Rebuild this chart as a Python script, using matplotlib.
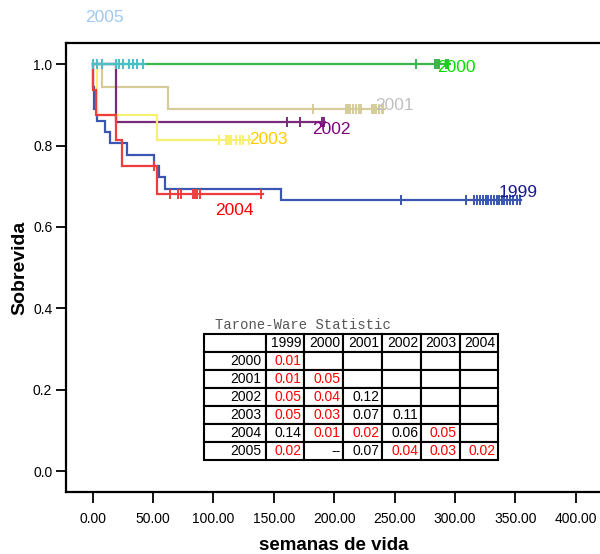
import numpy as np
import matplotlib
matplotlib.use("Agg")
import matplotlib.pyplot as plt

plt.rcParams['font.family'] = ['Liberation Sans', 'DejaVu Sans']

# ---------------- data ----------------
groups = ["1999", "2000", "2001", "2002", "2003", "2004", "2005"]

ev_1999 = [0.5, 1.5, 3.3, 10, 14, 28, 51, 55, 60, 156]
sv_1999 = [0.944, 0.889, 0.861, 0.833, 0.806, 0.778, 0.750, 0.722, 0.694, 0.667]
cens_1999 = [255, 309, 316, 318, 320.6, 323.4, 325.6, 327.5, 329.7, 332.4, 334.4,
             336.6, 338.6, 340.5, 343.2, 345.5, 348.2, 351, 353.7]
end_1999 = 354.5

ev_2000 = []
sv_2000 = []
cens_2000 = [268, 283, 285, 287, 292.5, 294.5]
end_2000 = 296

ev_2001 = [8, 62.6]
sv_2001 = [0.944, 0.889]
cens_2001 = [182, 210, 211.6, 213, 215.7, 218, 220.7, 222, 231, 233, 234.5, 237.3,
             239.3, 240.6]
end_2001 = 242

ev_2002 = [19]
sv_2002 = [0.857]
cens_2002 = [160.6, 171.6, 189.6, 191.5]
end_2002 = 192

ev_2003 = [3.8, 53]
sv_2003 = [0.875, 0.8125]
cens_2003 = [104.8, 110, 111.8, 112.8, 114.2, 118.4, 122, 124.7, 129.6]
end_2003 = 130

ev_2004 = [0.3, 2.5, 19, 24, 53]
sv_2004 = [0.9375, 0.875, 0.8125, 0.75, 0.682]
cens_2004 = [51, 64, 70.9, 72.8, 83.3, 84.7, 86.1, 88.8, 139.3]
end_2004 = 141

ev_2005 = []
sv_2005 = []
cens_2005 = [0.5, 3.8, 8, 19, 22, 25, 30, 33, 37, 42]
end_2005 = 43

# label anchor (data coords)
label_x = [352, 300.7, 249.4, 197.3, 145.2, 117, 9.4]
label_y = [0.684, 0.991, 0.898, 0.839, 0.816, 0.640, 1.114]

# Tarone-Ware table
tw_cols = ["1999", "2000", "2001", "2002", "2003", "2004"]
tw_rows = ["2000", "2001", "2002", "2003", "2004", "2005"]
tw_vals = [
    ["0.01"],
    ["0.01", "0.05"],
    ["0.05", "0.04", "0.12"],
    ["0.05", "0.03", "0.07", "0.11"],
    ["0.14", "0.01", "0.02", "0.06", "0.05"],
    ["0.02", "--", "0.07", "0.04", "0.03", "0.02"],
]

xticks = [0, 50, 100, 150, 200, 250, 300, 350, 400]
yticks = [0.0, 0.2, 0.4, 0.6, 0.8, 1.0]

# ---------------- style ----------------
line_colors = ['#3a56b0', '#3cb44a', '#d6cc9a', '#7a2a7a', '#f8f070', '#f03c3c', '#48c0c8']
label_colors = ['#1a1a8c', '#00e000', '#c0c0c0', '#800080', '#ffcc00', '#ff0000', '#a0c8f0']

series = [
    (ev_1999, sv_1999, cens_1999, end_1999),
    (ev_2000, sv_2000, cens_2000, end_2000),
    (ev_2001, sv_2001, cens_2001, end_2001),
    (ev_2002, sv_2002, cens_2002, end_2002),
    (ev_2003, sv_2003, cens_2003, end_2003),
    (ev_2004, sv_2004, cens_2004, end_2004),
    (ev_2005, sv_2005, cens_2005, end_2005),
]

fig = plt.figure(figsize=(6.0, 5.54), dpi=100)
ax = fig.add_axes([65.5 / 600, 62 / 554, 540.6 / 600, 449 / 554])
ax.set_xlim(-22.5, 425)
ax.set_ylim(-0.051, 1.052)


def surv_at(ev, sv, t):
    t = np.asarray(t, dtype=float)
    out = np.ones_like(t)
    for e, s in zip(ev, sv):
        out = np.where(t >= e, s, out)
    return out


for (ev, sv, cens, end), lc in zip(series, line_colors):
    xs = [0] + list(ev) + [end]
    ys = [1.0] + list(sv) + [sv[-1] if sv else 1.0]
    ax.step(xs, ys, where='post', color=lc, lw=1.6, solid_joinstyle='miter')
    ax.plot(cens, surv_at(ev, sv, cens), linestyle='none', marker='|',
            ms=7.5, mew=1.4, color=lc)

for g, lx, ly, c in zip(groups, label_x, label_y, label_colors):
    ax.text(lx, ly, g, color=c, fontsize=12.5, ha='center', va='center',
            clip_on=False)

# axes styling
for side in ['top', 'left', 'bottom', 'right']:
    ax.spines[side].set_linewidth(1.6)
ax.set_xticks(xticks)
ax.set_xticklabels([f"{v:.2f}" for v in xticks])
ax.set_yticks(yticks)
ax.set_yticklabels([f"{v:.1f}" for v in yticks])
ax.tick_params(axis='x', direction='out', length=8, width=1.3, pad=6.5, labelsize=10)
ax.tick_params(axis='y', direction='out', length=7.5, width=1.3, pad=2, labelsize=10)

fig.text(334 / 600, 1 - 545 / 554, "semanas de vida", fontsize=13.5,
         fontweight='bold', ha='center', va='center')
fig.text(20 / 600, 1 - 268 / 554, "Sobrevida", fontsize=14, fontweight='bold',
         rotation=90, ha='center', va='center')

# table
cell_text = [[""] + tw_cols]
for r, vals in zip(tw_rows, tw_vals):
    cell_text.append([r] + vals + [""] * (len(tw_cols) - len(vals)))

first_w = 0.2097
other_w = (1 - first_w) / len(tw_cols)
tbl = ax.table(cellText=cell_text, cellLoc='right',
               colWidths=[first_w] + [other_w] * len(tw_cols),
               bbox=[0.2562, 0.0713, 0.5444, 0.2806])
tbl.auto_set_font_size(False)
tbl.set_fontsize(10)
for (r, c), cell in tbl.get_celld().items():
    cell.set_linewidth(1.5)
    cell.set_edgecolor('black')
    cell.PAD = 0.07
    txt = cell.get_text().get_text()
    color = 'black'
    if r > 0 and c > 0:
        try:
            if float(txt) <= 0.05:
                color = '#ff0000'
        except ValueError:
            pass
    cell.get_text().set_color(color)

ax.text(0.2765, 0.372, "Tarone-Ware Statistic", transform=ax.transAxes,
        fontsize=10, family=['Liberation Mono', 'DejaVu Sans Mono'],
        color='#555555', ha='left', va='center')

fig.savefig("out.png", dpi=100)
